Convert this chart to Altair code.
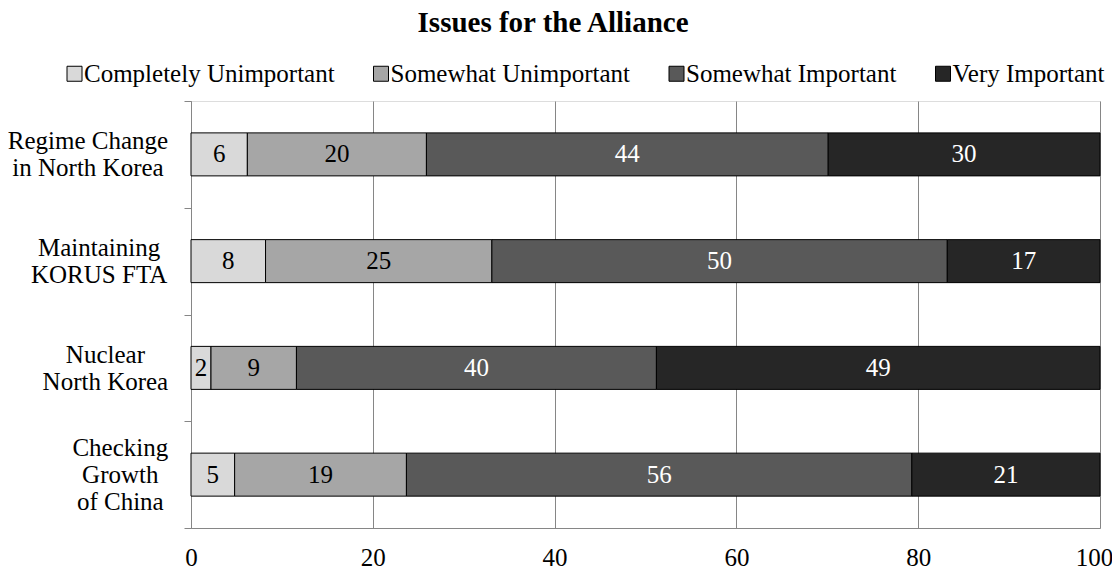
import altair as alt
import pandas as pd

# ---- data ----
categories = [
    "Regime Change|in North Korea",
    "Maintaining|KORUS FTA",
    "Nuclear|North Korea",
    "Checking|Growth|of China",
]
responses = [
    "Completely Unimportant",
    "Somewhat Unimportant",
    "Somewhat Important",
    "Very Important",
]
completely_unimportant = [6.2, 8.2, 2.2, 4.8]
somewhat_unimportant = [19.7, 24.9, 9.4, 18.9]
somewhat_important = [44.2, 50.1, 39.6, 55.6]
very_important = [29.9, 16.8, 48.8, 20.7]
x_ticks = [0, 20, 40, 60, 80, 100]

shades = ["#d9d9d9", "#a6a6a6", "#595959", "#262626"]
FONT = "Liberation Serif"
FS = 25
GRAY = "#868686"
LH = 27

series = [completely_unimportant, somewhat_unimportant, somewhat_important, very_important]
rows = []
for ci, cat in enumerate(categories):
    for ri, resp in enumerate(responses):
        rows.append({"cat": cat, "response": resp, "order": ri, "value": series[ri][ci]})
df = pd.DataFrame(rows)

# per-label padding so multi-line labels are right-aligned as blocks, lines centred
label_pad = [96.5, 85.4, 79.1, 64.2]
pad_cond = {
    "condition": [
        {"test": f"datum.value === '{c}'", "value": p} for c, p in zip(categories, label_pad)
    ],
    "value": 80,
}
off_cond = {
    "condition": [
        {"test": f"datum.value === '{c}'", "value": -(c.count('|')) * LH / 2} for c in categories
    ],
    "value": 0,
}
# keep the last x label inside the page
x_off = {"condition": {"test": "datum.value === 100", "value": -6}, "value": 0}

base = alt.Chart(df).transform_stack(
    stack="value", groupby=["cat"], as_=["v0", "v1"],
    sort=[alt.SortField("order", order="ascending")],
).transform_calculate(mid="(datum.v0 + datum.v1) / 2")

y_enc = alt.Y(
    "cat:N", sort=categories,
    scale=alt.Scale(paddingInner=0, paddingOuter=0),
    axis=alt.Axis(
        title=None, domainColor=GRAY, tickColor=GRAY, tickSize=7, tickBand="extent",
        labelFont=FONT, labelFontSize=FS, labelColor="black",
        labelExpr="split(datum.label, '|')", labelLineHeight=LH,
        labelAlign="center", labelBaseline="middle", labelPadding=pad_cond,
        labelOffset=off_cond, labelLimit=0, grid=False,
    ),
)

bars = base.mark_bar(stroke="black", strokeWidth=1).encode(
    y=y_enc,
    x=alt.X(
        "v0:Q", scale=alt.Scale(domain=[0, 100], nice=False),
        axis=alt.Axis(
            title=None, values=x_ticks, grid=True, gridColor=GRAY, domainColor=GRAY,
            ticks=False, tickSize=0, labelFont=FONT, labelFontSize=FS, labelColor="black",
            labelPadding=17, labelFlush=False, labelOffset=x_off,
        ),
    ),
    x2="v1:Q",
    size=alt.value(43),
    color=alt.Color(
        "response:N", sort=responses,
        scale=alt.Scale(domain=responses, range=shades),
        legend=alt.Legend(
            title=None, orient="none", legendX=-129, legendY=-40, direction="horizontal",
            padding=0, symbolType="square", symbolSize=225, symbolStrokeColor="black",
            symbolStrokeWidth=1, symbolOpacity=1, labelFont=FONT, labelFontSize=FS,
            labelColor="black", labelOffset={"expr": "-3"}, columnPadding=33.5, labelLimit=0,
        ),
    ),
)

texts = base.mark_text(font=FONT, fontSize=FS, baseline="middle").encode(
    y=alt.Y("cat:N", sort=categories),
    x=alt.X("mid:Q"),
    text=alt.Text("value:Q", format=".0f"),
    color=alt.condition("datum.order >= 2", alt.value("white"), alt.value("black")),
)

chart = alt.layer(bars, texts).properties(
    width=909, height=427,
    autosize=alt.AutoSizeParams(type="none"),
    padding={"left": 183, "top": 93, "right": 12, "bottom": 44},
    title=alt.Title(
        "Issues for the Alliance", font=FONT, fontSize=29, fontWeight="bold",
        color="black", anchor="middle", frame="bounds", offset=0, dx=-7, dy=6,
        baseline="bottom",
    ),
).configure_view(stroke=None).configure(background="white")

chart.save("out.html", embed_options={"renderer": "svg", "actions": False})
